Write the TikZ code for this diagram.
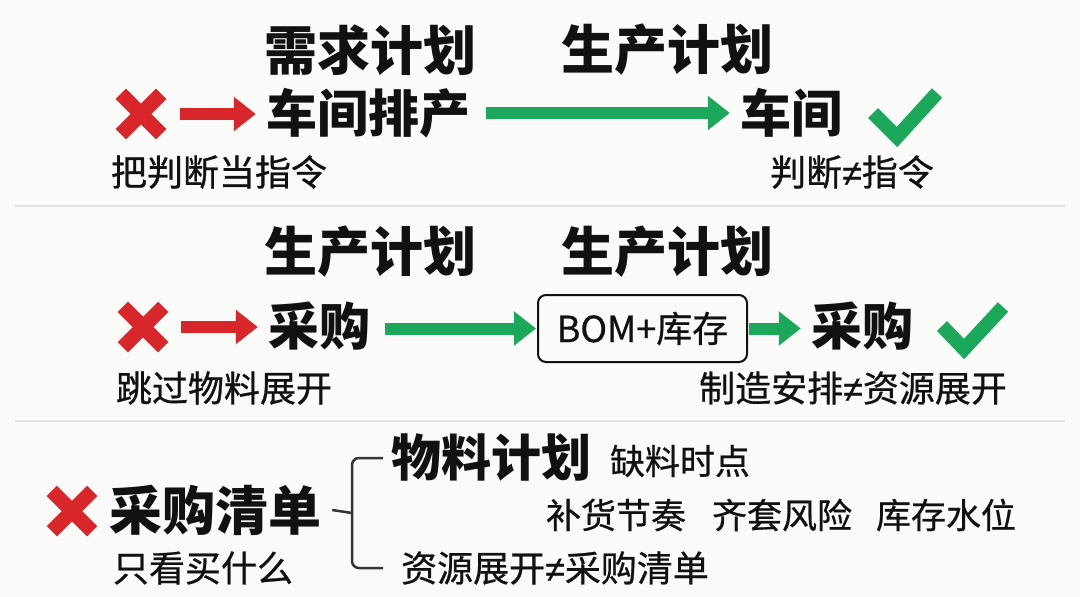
\documentclass[tikz,border=0pt]{standalone}
\usepackage{fontspec}
\setmainfont{Noto Sans CJK SC}
\newfontfamily\notefont{Noto Sans CJK SC}[FakeBold=0.7]
\newfontfamily\neqfont{Liberation Sans}[FakeBold=0.7]
\newcommand{\myneq}{{\neqfont ≠}}
\usetikzlibrary{arrows.meta}
\definecolor{myred}{HTML}{D8262B}
\definecolor{mygreen}{HTML}{1CA85A}
\definecolor{bgc}{HTML}{FAFAF8}
\definecolor{sepc}{HTML}{E2E2E2}
\definecolor{inkc}{HTML}{111111}
\tikzset{
  title/.style={inner sep=0pt, text=inkc, font=\fontsize{53}{60}\selectfont\bfseries},
  mainword/.style={inner sep=0pt, text=inkc, font=\fontsize{51}{58}\selectfont\bfseries},
  note/.style={inner sep=0pt, text=inkc, font=\notefont\fontsize{36}{42}\selectfont},
  subnote/.style={inner sep=0pt, text=inkc, font=\notefont\fontsize{35}{40}\selectfont},
  markbox/.style={inner sep=0pt, minimum size=40pt},
  crossline/.style={draw=myred, line width=14.5pt},
  checkline/.style={draw=mygreen, line width=14pt, line join=miter},
  redarrow/.style={draw=myred, line width=12pt, -{Triangle[length=22pt,width=33pt]}},
  greenarrow/.style={draw=mygreen, line width=12pt, -{Triangle[length=22pt,width=33pt]}},
  sepline/.style={draw=sepc, line width=2pt},
  bracket/.style={draw=inkc!85, line width=2.5pt, rounded corners=7pt},
  bomnode/.style={draw=inkc, line width=2pt, rounded corners=8pt, minimum width=209pt, minimum height=67pt, inner sep=0pt, text=inkc, font=\notefont\fontsize{36}{42}\selectfont}
}
\begin{document}
\begin{tikzpicture}[x=1pt,y=-1pt]
\fill[bgc] (0,0) rectangle (1080,597);
\useasboundingbox (0,0) rectangle (1080,597);

% separators
\coordinate (s1a) at (15,206); \coordinate (s1b) at (1065,206);
\coordinate (s2a) at (15,421); \coordinate (s2b) at (1065,421);
\draw[sepline] (s1a) -- (s1b);
\draw[sepline] (s2a) -- (s2b);

% ---------- Row 1 ----------
\node[title] (h1) at (370,50) {需求计划};
\node[title] (h2) at (667,50) {生产计划};
\node[markbox] (x1) at (141,114) {};
\draw[crossline] (x1.north west) -- (x1.south east) (x1.north east) -- (x1.south west);
\node[mainword] (w1) at (368,113) {车间排产};
\node[mainword] (w2) at (791,113) {车间};
\draw[redarrow, shorten <=19pt, shorten >=10pt] (x1.east) -- (x1.east -| w1.west);
\draw[greenarrow, shorten <=16pt, shorten >=10pt] (w1.east) -- (w1.east -| w2.west);
\coordinate (c1a) at (873,113); \coordinate (c1b) at (897,137); \coordinate (c1c) at (937,93);
\draw[checkline] (c1a) -- (c1b) -- (c1c);
\node[note] (n1) at (219,172) {把判断当指令};
\node[note] (n2) at (852,172) {判断\myneq 指令};

% ---------- Row 2 ----------
\node[title] (h3) at (370,252) {生产计划};
\node[title] (h4) at (667,252) {生产计划};
\node[markbox] (x2) at (143,327) {};
\draw[crossline] (x2.north west) -- (x2.south east) (x2.north east) -- (x2.south west);
\node[mainword] (w3) at (319,326) {采购};
\node[bomnode] (bom) at (642.5,328.5) {BOM+库存};
\node[mainword] (w4) at (862,326) {采购};
\draw[redarrow, shorten <=18pt, shorten >=10pt] (x2.east) -- (x2.east -| w3.west);
\draw[greenarrow, shorten <=15pt, shorten >=1pt] (w3.east |- bom.west) -- (bom.west);
\draw[greenarrow, shorten <=1pt, shorten >=10pt] (bom.east) -- (bom.east -| w4.west);
\coordinate (c2a) at (942,326); \coordinate (c2b) at (964,349); \coordinate (c2c) at (1003,307);
\draw[checkline] (c2a) -- (c2b) -- (c2c);
\node[note] (n3) at (224,388) {跳过物料展开};
\node[note] (n4) at (853,388) {制造安排\myneq 资源展开};

% ---------- Row 3 ----------
\node[markbox] (x3) at (72,511) {};
\draw[crossline] (x3.north west) -- (x3.south east) (x3.north east) -- (x3.south west);
\node[title] (w5) at (215,510) {采购清单};
\node[note] (n5) at (203,568) {只看买什么};
\node[title, font=\fontsize{50}{56}\selectfont\bfseries] (m1) at (491,458) {物料计划};
\node[subnote] (m2) at (680,461) {缺料时点};
\node[subnote] (m3) at (616,515) {补货节奏};
\node[subnote] (m4) at (782,515) {齐套风险};
\node[subnote] (m5) at (946,515) {库存水位};
\node[note] (m6) at (555,568) {资源展开\myneq 采购清单};
\coordinate (bt) at (383,458);
\coordinate (bb) at (383,568);
\coordinate (bv) at (352,513);
\draw[bracket] (bt) -| (bv) |- (bb);
\draw[bracket] (w5.east) ++(11pt,0) coordinate (bs) -- (bv);
\end{tikzpicture}
\end{document}
